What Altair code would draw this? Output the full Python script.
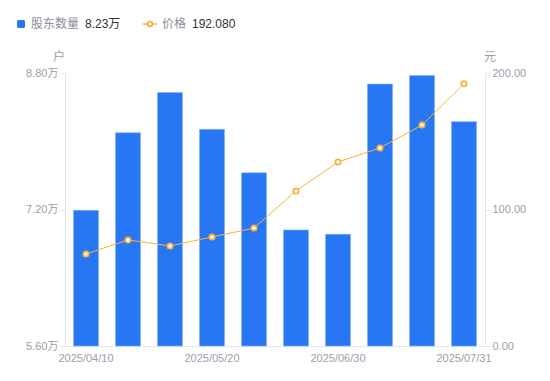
import altair as alt
import pandas as pd

dates = ["2025/04/10", "2025/04/20", "2025/04/30", "2025/05/20", "2025/05/31",
         "2025/06/20", "2025/06/30", "2025/07/10", "2025/07/20", "2025/07/31"]
holders = [7.19, 8.10, 8.57, 8.14, 7.63, 6.96, 6.91, 8.67, 8.77, 8.23]
prices = [67.4, 77.7, 73.3, 79.9, 86.4, 113.6, 134.8, 145.1, 161.9, 192.08]
shown_labels = ["2025/04/10", "2025/05/20", "2025/06/30", "2025/07/31"]

df = pd.DataFrame({"date": dates, "holders": holders, "price": prices})

FONT = "Liberation Sans, Noto Sans CJK SC, sans-serif"
GRAY = "#9a9eab"
BLUE = "#2777f5"
ORANGE = "#fbb03b"
AXIS_LINE = "#e3e5ea"

label_expr = "indexof(" + str(shown_labels).replace("'", '"') + ", datum.value) >= 0 ? datum.value : ''"

x = alt.X("date:O", sort=dates, title=None,
          scale=alt.Scale(paddingInner=0, paddingOuter=0),
          axis=alt.Axis(labelAngle=0, labelExpr=label_expr, ticks=False,
                        domainColor=AXIS_LINE, labelColor=GRAY, labelFont=FONT,
                        labelFontSize=11, labelPadding=6, labelOverlap=False))

bars = alt.Chart(df).mark_bar(size=25, color=BLUE, stroke="#7fb0ff", strokeWidth=0.6).encode(
    x=x,
    y=alt.Y("holders:Q", title=None,
            scale=alt.Scale(domain=[5.6, 8.8], zero=False, nice=False),
            axis=alt.Axis(values=[5.6, 7.2, 8.8], labelExpr="format(datum.value, '.2f') + '万'",
                          grid=False, domainColor=AXIS_LINE, tickColor=AXIS_LINE, tickSize=5,
                          labelColor=GRAY, labelFont=FONT, labelFontSize=11, labelPadding=2)),
    y2=alt.Y2(datum=5.6),
)

price_y = alt.Y("price:Q", title=None,
                scale=alt.Scale(domain=[0, 200], nice=False),
                axis=alt.Axis(orient="right", values=[0, 100, 200], format=".2f",
                              grid=False, domainColor=AXIS_LINE, tickColor=AXIS_LINE, tickSize=5,
                              labelColor=GRAY, labelFont=FONT, labelFontSize=11, labelPadding=2))

pbase = alt.Chart(df).encode(x=x, y=price_y)
line = pbase.mark_line(color=ORANGE, strokeWidth=1)
points = pbase.mark_point(filled=True, fill="white", stroke=ORANGE, strokeWidth=1.8,
                          size=28, opacity=1)
right = alt.layer(line, points)

# legend & axis unit titles
leg_sq = alt.Chart(pd.DataFrame({"a": [0]})).mark_rect(color=BLUE, cornerRadius=1.5).encode(
    x=alt.value(-48), x2=alt.value(-40), y=alt.value(-53), y2=alt.value(-45))
leg_t1 = alt.Chart(pd.DataFrame({"t": ["股东数量"]})).mark_text(
    align="left", baseline="middle", font=FONT, fontSize=12, color="#8a8e99").encode(
    text="t:N", x=alt.value(-34), y=alt.value(-49))
leg_v1 = alt.Chart(pd.DataFrame({"t": [f"{holders[-1]:.2f}万"]})).mark_text(
    align="left", baseline="middle", font=FONT, fontSize=12, color="#333333").encode(
    text="t:N", x=alt.value(20), y=alt.value(-49))
leg_l = alt.Chart(pd.DataFrame({"a": [0]})).mark_rule(color=ORANGE, strokeWidth=1.5).encode(
    x=alt.value(78), x2=alt.value(92), y=alt.value(-49))
leg_c = alt.Chart(pd.DataFrame({"a": [0]})).mark_point(filled=True, fill="white", stroke=ORANGE,
                                                        strokeWidth=1.8, size=22, opacity=1).encode(
    x=alt.value(85), y=alt.value(-49))
leg_t2 = alt.Chart(pd.DataFrame({"t": ["价格"]})).mark_text(
    align="left", baseline="middle", font=FONT, fontSize=12, color="#8a8e99").encode(
    text="t:N", x=alt.value(97), y=alt.value(-49))
leg_v2 = alt.Chart(pd.DataFrame({"t": [f"{prices[-1]:.3f}"]})).mark_text(
    align="left", baseline="middle", font=FONT, fontSize=12, color="#333333").encode(
    text="t:N", x=alt.value(127), y=alt.value(-49))
unit_l = alt.Chart(pd.DataFrame({"t": ["户"]})).mark_text(
    align="center", baseline="middle", font=FONT, fontSize=12, color=GRAY).encode(
    text="t:N", x=alt.value(-6), y=alt.value(-16))
unit_r = alt.Chart(pd.DataFrame({"t": ["元"]})).mark_text(
    align="center", baseline="middle", font=FONT, fontSize=12, color=GRAY).encode(
    text="t:N", x=alt.value(425), y=alt.value(-16))

deco = alt.layer(leg_sq, leg_t1, leg_v1, leg_l, leg_c, leg_t2, leg_v2, unit_l, unit_r)

chart = alt.layer(bars, right, deco).resolve_scale(y="independent").properties(
    width=420, height=273,
    background="white",
    autosize=alt.AutoSizeParams(type="none"),
    padding={"left": 57, "top": 65, "right": 57, "bottom": 27},
).configure_view(strokeWidth=0, stroke="transparent")

chart.save("out.html", embed_options={"renderer": "svg", "actions": False})
